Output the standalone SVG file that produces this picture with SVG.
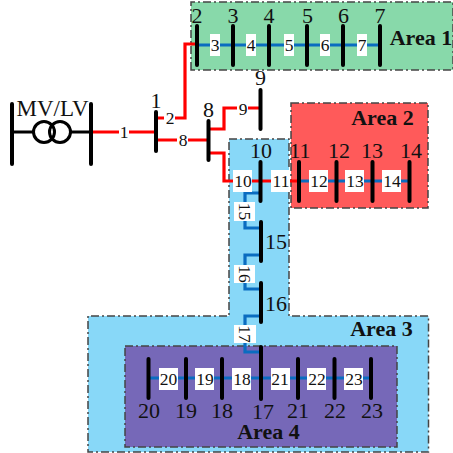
<svg xmlns="http://www.w3.org/2000/svg" width="453" height="453" viewBox="0 0 453 453">
<style>
.area{stroke:#444;stroke-width:1.500;stroke-dasharray:8 3 2 3}
.bus{stroke:#000;stroke-width:4;stroke-linecap:round;fill:none}
.r{stroke:#f00;stroke-width:3.200;fill:none}
.b{stroke:#0a6cc0;stroke-width:3.200;fill:none}
text{font-family:"Liberation Serif",serif;fill:#111;text-anchor:middle}
.n{font-size:22px}
.l{font-size:17.500px}
.a{font-size:22px;font-weight:bold}
.w{fill:#fff}
</style>
<rect width="453" height="453" fill="#fff"/>
<g id="areas">
<path id="area1" class="area" fill="#88d9aa" d="M191 70V2H453V70Z"/>
<path id="area2" class="area" fill="#ff5a5a" d="M291 103H428V208H291Z"/>
<path id="area3" class="area" fill="#88d8f8" d="M229 139H289V316H428.500V452H88V316H229Z"/>
<path id="area4" class="area" fill="#7668b8" d="M125 346H397V447H125Z"/>
</g>
<g id="connectors">
<path class="r" d="M92 132H156"/>
<path class="r" d="M156 118H185V44H197"/>
<path class="r" d="M156 140H208"/>
<path class="r" d="M208 129H224V108H260"/>
<path class="r" d="M208 153H224V181H299"/>
<path class="b" d="M197 45H380"/>
<path class="b" d="M299 181H409"/>
<path class="b" d="M260 193H245V228H260"/>
<path class="b" d="M260 255H245V289H260"/>
<path class="b" d="M260 316H245V352H260"/>
<path class="b" d="M148 378H371"/>
</g>
<g id="transformer">
<path class="bus" d="M12 104V164M91 104V164"/>
<path d="M12 132H33M71 132H91" stroke="#000" stroke-width="3" fill="none"/>
<circle cx="44" cy="132" r="10.500" fill="none" stroke="#000" stroke-width="3"/>
<circle cx="60" cy="132" r="10.500" fill="none" stroke="#000" stroke-width="3"/>
<text class="n" x="52.500" y="116" style="font-size:23px">MV/LV</text>
</g>
<g id="bus1"><path class="bus" d="M156 112V151"/><text class="n" x="156" y="108">1</text></g>
<g id="bus8"><path class="bus" d="M208.500 121V160"/><text class="n" x="208.500" y="117">8</text></g>
<g id="bus2"><path class="bus" d="M197 26V65"/><text class="n" x="197" y="22.500">2</text></g>
<g id="bus3"><path class="bus" d="M233 26V65"/><text class="n" x="233" y="22.500">3</text></g>
<g id="bus4"><path class="bus" d="M269 26V65"/><text class="n" x="269" y="22.500">4</text></g>
<g id="bus5"><path class="bus" d="M307 26V65"/><text class="n" x="307.500" y="22.500">5</text></g>
<g id="bus6"><path class="bus" d="M343 26V65"/><text class="n" x="343.500" y="22.500">6</text></g>
<g id="bus7"><path class="bus" d="M380 26V65"/><text class="n" x="380" y="22.500">7</text></g>
<g id="bus9"><path class="bus" d="M260.500 90V129"/><text class="n" x="260.500" y="85">9</text></g>
<g id="bus10"><path class="bus" d="M260.500 162V201"/><text class="n" x="261" y="158">10</text></g>
<g id="bus11"><path class="bus" d="M299 162V201"/><text class="n" x="300" y="158">11</text></g>
<g id="bus12"><path class="bus" d="M336.500 162V201"/><text class="n" x="339" y="158">12</text></g>
<g id="bus13"><path class="bus" d="M372.500 162V201"/><text class="n" x="372" y="158">13</text></g>
<g id="bus14"><path class="bus" d="M409.500 162V201"/><text class="n" x="411" y="158">14</text></g>
<g id="bus15"><path class="bus" d="M261 222V261"/><text class="n" x="276" y="249">15</text></g>
<g id="bus16"><path class="bus" d="M261 283V322"/><text class="n" x="276" y="311">16</text></g>
<g id="bus17"><path class="bus" d="M261 347V399"/><text class="n" x="263" y="419">17</text></g>
<g id="bus20"><path class="bus" d="M148.500 359V398"/><text class="n" x="149" y="418">20</text></g>
<g id="bus19"><path class="bus" d="M186 359V398"/><text class="n" x="186" y="418">19</text></g>
<g id="bus18"><path class="bus" d="M222 359V398"/><text class="n" x="222" y="418">18</text></g>
<g id="bus21"><path class="bus" d="M298 359V398"/><text class="n" x="298" y="418">21</text></g>
<g id="bus22"><path class="bus" d="M334.500 359V398"/><text class="n" x="335" y="418">22</text></g>
<g id="bus23"><path class="bus" d="M371 359V398"/><text class="n" x="372" y="418">23</text></g>
<g id="labels">
<rect class="w" x="119" y="122" width="10" height="20"/><text class="l" x="124" y="138">1</text>
<rect class="w" x="164" y="108" width="11" height="19"/><text class="l" x="170" y="124">2</text>
<rect class="w" x="177" y="130" width="11" height="19"/><text class="l" x="183" y="146">8</text>
<rect class="w" x="237" y="99" width="11" height="19"/><text class="l" x="243" y="115">9</text>
<rect class="w" x="210" y="34" width="10" height="22"/><text class="l" x="215" y="51">3</text>
<rect class="w" x="246" y="34" width="10" height="22"/><text class="l" x="251" y="51">4</text>
<rect class="w" x="284" y="34" width="10" height="22"/><text class="l" x="289" y="51">5</text>
<rect class="w" x="320" y="34" width="10" height="22"/><text class="l" x="325" y="51">6</text>
<rect class="w" x="357" y="34" width="10" height="22"/><text class="l" x="362" y="51">7</text>
<rect class="w" x="233" y="170" width="19" height="22"/><text class="l" x="243" y="187">10</text>
<rect class="w" x="271" y="170" width="19" height="22"/><text class="l" x="281" y="187">11</text>
<rect class="w" x="309" y="170" width="19" height="22"/><text class="l" x="319" y="187">12</text>
<rect class="w" x="345" y="170" width="19" height="22"/><text class="l" x="355" y="187">13</text>
<rect class="w" x="382" y="170" width="19" height="22"/><text class="l" x="392" y="187">14</text>
<rect class="w" x="234" y="202" width="21" height="19"/><text class="l" transform="translate(239,211.500) rotate(90)">15</text>
<rect class="w" x="234" y="265" width="21" height="18"/><text class="l" transform="translate(239,274) rotate(90)">16</text>
<rect class="w" x="234" y="325" width="22" height="18"/><text class="l" transform="translate(239,334) rotate(90)">17</text>
<rect class="w" x="159" y="368" width="19" height="22"/><text class="l" x="168.500" y="385">20</text>
<rect class="w" x="195" y="368" width="19" height="22"/><text class="l" x="205" y="385">19</text>
<rect class="w" x="232" y="368" width="19" height="22"/><text class="l" x="242" y="385">18</text>
<rect class="w" x="271" y="368" width="19" height="22"/><text class="l" x="280" y="385">21</text>
<rect class="w" x="307" y="368" width="19" height="22"/><text class="l" x="317" y="385">22</text>
<rect class="w" x="344" y="368" width="19" height="22"/><text class="l" x="354" y="385">23</text>
<text class="a" x="421" y="45">Area 1</text>
<text class="a" x="382.500" y="125">Area 2</text>
<text class="a" x="381.500" y="336">Area 3</text>
<text class="a" x="268.500" y="439">Area 4</text>
</g>
</svg>
